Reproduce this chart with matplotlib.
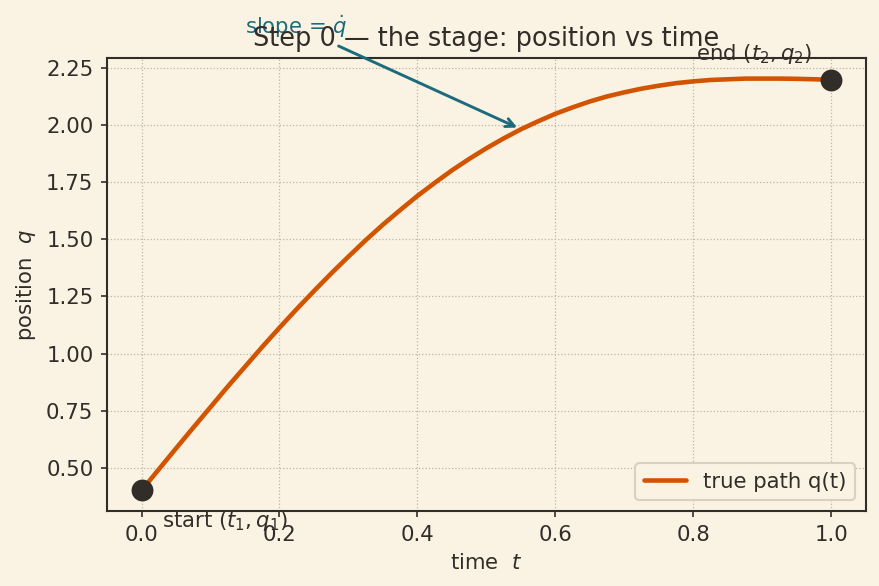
import matplotlib
matplotlib.use("Agg")
import matplotlib.pyplot as plt

# values
t = [0.000, 0.025, 0.050, 0.075, 0.100, 0.125, 0.150, 0.175, 0.200, 0.225,
     0.250, 0.275, 0.300, 0.325, 0.350, 0.375, 0.400, 0.425, 0.450, 0.475,
     0.500, 0.525, 0.550, 0.575, 0.600, 0.625, 0.650, 0.675, 0.700, 0.725,
     0.750, 0.775, 0.800, 0.825, 0.850, 0.875, 0.900, 0.925, 0.950, 0.975,
     1.000]
q = [0.400, 0.492, 0.584, 0.675, 0.765, 0.855, 0.942, 1.029, 1.113, 1.195,
     1.274, 1.351, 1.425, 1.497, 1.565, 1.629, 1.691, 1.748, 1.803, 1.853,
     1.900, 1.943, 1.983, 2.018, 2.051, 2.079, 2.105, 2.127, 2.145, 2.161,
     2.174, 2.185, 2.193, 2.199, 2.202, 2.205, 2.205, 2.205, 2.204, 2.202,
     2.200]
endpoints_t = [0.0, 1.0]
endpoints_q = [0.4, 2.2]

BG = "#faf3e3"
INK = "#332d2a"
ORANGE = "#d35400"
TEAL = "#1b6b7d"
FS = 10.2


def main():
    plt.rcParams["font.family"] = "DejaVu Sans"
    plt.rcParams["text.color"] = INK
    plt.rcParams["axes.labelcolor"] = INK
    plt.rcParams["xtick.color"] = INK
    plt.rcParams["ytick.color"] = INK

    fig, ax = plt.subplots(figsize=(880 / 150, 586 / 150), dpi=150)
    fig.patch.set_facecolor(BG)
    ax.set_facecolor(BG)
    fig.subplots_adjust(left=0.1216, right=0.984, top=0.901, bottom=0.128)

    ax.plot(t, q, color=ORANGE, lw=2.2, label="true path q(t)", zorder=2,
            solid_joinstyle="round", solid_capstyle="round")
    ax.plot(endpoints_t, endpoints_q, "o", color=INK, ms=9.5, zorder=3)

    ax.annotate("start $(t_1, q_1)$", xy=(endpoints_t[0], endpoints_q[0]),
                xytext=(10, -9), textcoords="offset points", va="top",
                fontsize=FS)
    ax.annotate("end $(t_2, q_2)$", xy=(endpoints_t[1], endpoints_q[1]),
                xytext=(-9, 6.5), textcoords="offset points", ha="right",
                va="bottom", fontsize=FS)
    ax.annotate(r"slope = $\dot{q}$", xy=(t[22], q[22]), xytext=(0.15, 2.4),
                color=TEAL, fontsize=FS,
                arrowprops=dict(arrowstyle="->", color=TEAL, lw=1.4))

    ax.set_title("Step 0 — the stage: position vs time", fontsize=12.3, color=INK)
    ax.set_xlabel("time  $t$", fontsize=FS)
    ax.set_ylabel("position  $q$", fontsize=FS)

    ax.grid(True, linestyle=":", color="#bdb5a5", lw=0.6)
    for sp in ax.spines.values():
        sp.set_color(INK)
        sp.set_linewidth(1.0)
    ax.tick_params(labelsize=FS, length=3)

    leg = ax.legend(loc="lower right", fontsize=FS, facecolor=BG,
                    edgecolor="#d8d0c0", framealpha=1.0)
    for txt in leg.get_texts():
        txt.set_color(INK)

    fig.savefig("out.png", dpi=150, facecolor=BG)


if __name__ == "__main__":
    main()
